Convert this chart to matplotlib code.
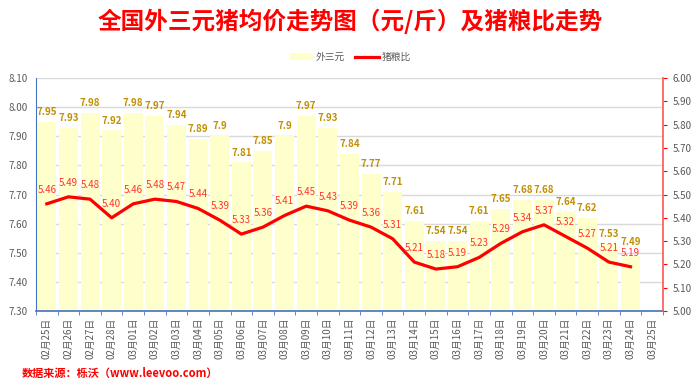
import matplotlib
matplotlib.use("Agg")
import matplotlib.pyplot as plt
import numpy as np

plt.rcParams['font.family'] = ['Noto Sans CJK SC', 'DejaVu Sans']

# dates on the x axis
dates = ['02月25日', '02月26日', '02月27日', '02月28日'] + ['03月%02d日' % d for d in range(1, 26)]

# 外三元 price (元/斤)
price = [7.95, 7.93, 7.98, 7.92, 7.98, 7.97, 7.94, 7.89, 7.9, 7.81, 7.85, 7.9, 7.97, 7.93,
         7.84, 7.77, 7.71, 7.61, 7.54, 7.54, 7.61, 7.65, 7.68, 7.68, 7.64, 7.62, 7.53, 7.49]
price_labels = ['7.95', '7.93', '7.98', '7.92', '7.98', '7.97', '7.94', '7.89', '7.9', '7.81',
                '7.85', '7.9', '7.97', '7.93', '7.84', '7.77', '7.71', '7.61', '7.54', '7.54',
                '7.61', '7.65', '7.68', '7.68', '7.64', '7.62', '7.53', '7.49']

# 猪粮比
ratio = [5.46, 5.49, 5.48, 5.40, 5.46, 5.48, 5.47, 5.44, 5.39, 5.33, 5.36, 5.41, 5.45, 5.43,
         5.39, 5.36, 5.31, 5.21, 5.18, 5.19, 5.23, 5.29, 5.34, 5.37, 5.32, 5.27, 5.21, 5.19]

bar_color = '#FFFFCC'
gold = '#C09000'
red = '#FF0000'
gray = '#595959'

fig = plt.figure(figsize=(7, 3.89), dpi=100)
ax = fig.add_axes([0.0514, 0.2005, 0.8956, 0.599])
ax2 = ax.twinx()

x = np.arange(len(dates))
xb = x[:len(price)]
bars = ax.bar(xb, price, width=0.88, color=bar_color, zorder=2, label='外三元')
bar_texts = []
for xi, v, lab in zip(xb, price, price_labels):
    t = ax.annotate(lab, (xi, v), xytext=(0, 3.5), textcoords='offset points',
                    ha='center', va='bottom', fontsize=7, color=gold, fontweight='bold', zorder=5)
    bar_texts.append(t)

ax.set_ylim(7.30, 8.10)
ax.set_yticks(np.arange(7.30, 8.101, 0.1))
ax.set_yticklabels(['%.2f' % t for t in np.arange(7.30, 8.101, 0.1)])
ax.set_xlim(-0.5, len(dates) - 0.5)
ax.grid(axis='y', color='#D9D9D9', linewidth=1, zorder=0)
ax.set_axisbelow(True)
ax.set_xticks(x)
ax.set_xticklabels(dates, rotation=90, fontsize=7, color=gray)
ax.set_xticks(np.arange(-0.5, len(dates), 1), minor=True)
ax.tick_params(axis='x', which='major', length=0, pad=5)
ax.tick_params(axis='x', which='minor', length=3, color='#4472C4', direction='out')
ax.tick_params(axis='y', length=0, labelsize=7, labelcolor=gray, pad=6)

for s in ['top', 'right']:
    ax.spines[s].set_visible(False)
ax.spines['left'].set_color('#4472C4')
ax.spines['bottom'].set_color('#4472C4')
ax.spines['bottom'].set_linewidth(1.2)

line, = ax2.plot(xb, ratio, color=red, linewidth=2.3, zorder=4, label='猪粮比')
line_texts = []
for xi, v in zip(xb, ratio):
    t = ax2.annotate('%.2f' % v, (xi, v), xytext=(0, 6.5), textcoords='offset points',
                     ha='center', va='bottom', fontsize=7, color='#FF3333', zorder=5)
    line_texts.append(t)
ax2.set_ylim(5.00, 6.00)
ax2.set_yticks(np.arange(5.0, 6.001, 0.1))
ax2.set_yticklabels(['%.2f' % t for t in np.arange(5.0, 6.001, 0.1)])
ax2.tick_params(axis='y', length=3, color=red, labelsize=7, labelcolor=gray, pad=4)
for s in ['top', 'left', 'bottom']:
    ax2.spines[s].set_visible(False)
ax2.spines['right'].set_color('#FF5555')
ax2.spines['right'].set_linewidth(1.2)

fig.text(0.5, 0.945, '全国外三元猪均价走势图（元/斤）及猪粮比走势', ha='center', va='center',
         fontsize=17, fontweight='bold', color=red)
fig.legend(handles=[bars, line], loc='center', bbox_to_anchor=(0.5, 0.853), ncol=2, frameon=False,
           fontsize=7, labelcolor=gray, handlelength=2.5, columnspacing=1.0, handletextpad=0.3)
fig.text(0.031, 0.04, '数据来源：栎沃（www.leevoo.com）', ha='left', va='center',
         fontsize=8, fontweight='bold', color=red)

# nudge a price label up if it sits on top of the ratio label below it
fig.canvas.draw()
r = fig.canvas.get_renderer()
for bt, lt in zip(bar_texts, line_texts):
    b1 = bt.get_window_extent(r)
    b2 = lt.get_window_extent(r)
    if b1.overlaps(b2):
        shift = (b2.y1 - b1.y0 + 1) * 72 / fig.dpi
        bt.set_position((0, 3.5 + shift))

fig.savefig('out.png', dpi=100)
